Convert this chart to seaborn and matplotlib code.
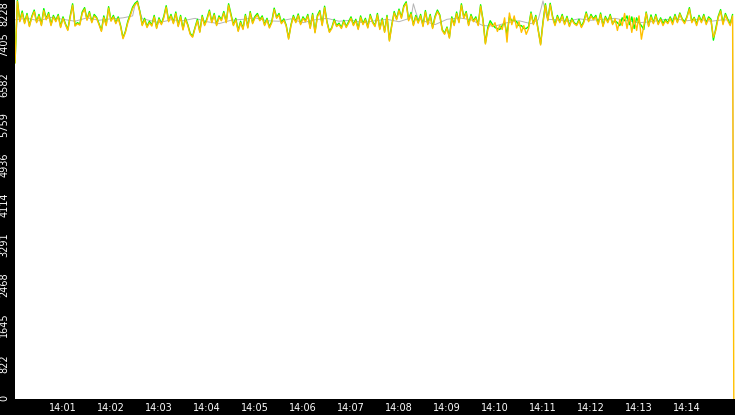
import numpy as np
import pandas as pd
import matplotlib
matplotlib.use('Agg')
import matplotlib.pyplot as plt
import matplotlib.dates as mdates
import matplotlib.transforms as mtransforms
import seaborn as sns

# Data, one sample every 3 s from 14:00:00
start = pd.Timestamp('2024-01-01 14:00:00')
step_s = 3

yellow = [
    6930, 8200, 7780, 7960, 7740, 7920, 7680, 7870, 7990, 7760,
    7900, 7700, 8010, 7820, 7940, 7700, 7880, 7780, 7900, 7660,
    7850, 7720, 7600, 7870, 8120, 7690, 7740, 7710, 7950, 8040,
    7810, 7960, 7760, 7900, 7850, 7720, 7580, 7870, 7700, 8060,
    7790, 7880, 7740, 7850, 7680, 7430, 7560, 7760, 7900, 8050,
    8130, 8180, 7980, 7700, 7820, 7660, 7760, 7690, 7880, 7640,
    7830, 7720, 7860, 8080, 7780, 7900, 7740, 7950, 7680, 7880,
    7610, 7830, 7700, 7520, 7460, 7640, 7800, 7560, 7880, 7700,
    7820, 7990, 7760, 7920, 7700, 7870, 7800, 7960, 7760, 8120,
    7900, 7700, 7820, 7580, 7760, 7620, 7900, 7650, 7960, 7740,
    7860, 7920, 7800, 7870, 7700, 7820, 7650, 7760, 8030, 7850,
    7920, 7740, 7810, 7690, 7420, 7700, 7880, 7760, 7910, 7720,
    7850, 7780, 7900, 7640, 7920, 7550, 7880, 7980, 7700, 8070,
    7760, 7560, 7640, 7800, 7680, 7720, 7640, 7780, 7660, 7750,
    7850, 7700, 7800, 7620, 7870, 7720, 7820, 7650, 7900, 7760,
    7680, 7920, 7620, 7820, 7560, 7880, 7380, 7700, 7960, 7820,
    8010, 7850, 8080, 8160, 7800, 7940, 7700, 7880, 7750, 7900,
    7680, 7980, 7720, 7900, 7640, 7860, 7990, 7900, 7600, 7520,
    7650, 7440, 7850, 7700, 7950, 7760, 8120, 7850, 7960, 7700,
    7900, 7780, 7850, 7700, 8100, 7800, 7320, 7620, 7750, 7680,
    7760, 7580, 7700, 7620, 7860, 7360, 7960, 7720, 7900, 7650,
    7780, 7560, 7700, 7520, 7640, 7950, 7720, 7880, 7600, 7300,
    7750, 8120, 7800, 8130, 7860, 7700, 7880, 7760, 7900, 7720,
    7860, 7680, 7820, 7740, 7700, 7800, 7660, 7760, 7950, 7780,
    7900, 7820, 7880, 7720, 7930, 7680, 7860, 7760, 7900, 7720,
    7840, 7600, 7820, 7700, 7950, 7640, 7900, 7560, 7860, 7600,
    7900, 7420, 7700, 7960, 7680, 7880, 7740, 7900, 7720, 7830,
    7700, 7800, 7740, 7850, 7720, 7900, 7760, 7940, 7820, 7740,
    7870, 8040, 7760, 7850, 7700, 7880, 7760, 7900, 7720, 7850,
    7800, 7460, 7600, 7860, 8000, 7720, 7920, 7800, 7700, 7900,
]

green = [
    6930, 8220, 7800, 8000, 7760, 7950, 7700, 7890, 8020, 7780,
    7930, 7720, 8050, 7840, 7970, 7720, 7910, 7800, 7930, 7680,
    7880, 7740, 7620, 7900, 8150, 7710, 7760, 7730, 7980, 8070,
    7830, 7990, 7780, 7930, 7870, 7740, 7600, 7900, 7720, 8090,
    7810, 7910, 7760, 7880, 7700, 7450, 7580, 7790, 7930, 8080,
    8160, 8200, 8000, 7720, 7850, 7680, 7790, 7710, 7910, 7660,
    7860, 7740, 7890, 8110, 7800, 7930, 7760, 7980, 7700, 7910,
    7630, 7860, 7720, 7540, 7480, 7660, 7830, 7580, 7910, 7720,
    7850, 8020, 7780, 7950, 7720, 7900, 7820, 7990, 7780, 8150,
    7930, 7720, 7850, 7600, 7790, 7640, 7930, 7670, 7990, 7760,
    7890, 7950, 7820, 7900, 7720, 7850, 7670, 7790, 8060, 7870,
    7950, 7760, 7840, 7710, 7440, 7720, 7910, 7780, 7940, 7740,
    7880, 7800, 7930, 7660, 7950, 7570, 7910, 8010, 7720, 8100,
    7780, 7580, 7660, 7830, 7700, 7750, 7660, 7810, 7680, 7780,
    7880, 7720, 7830, 7640, 7900, 7740, 7850, 7670, 7930, 7780,
    7700, 7950, 7640, 7850, 7580, 7910, 7400, 7720, 7990, 7840,
    8040, 7870, 8110, 8190, 7820, 7970, 7720, 7910, 7770, 7930,
    7700, 8010, 7740, 7930, 7660, 7890, 8020, 7920, 7620, 7540,
    7670, 7460, 7880, 7720, 7980, 7780, 8150, 7870, 7990, 7720,
    7930, 7800, 7880, 7720, 8130, 7820, 7340, 7660, 7800, 7720,
    7660, 7640, 7620, 7700, 7760, 7520, 7880, 7800, 7820, 7780,
    7700, 7700, 7640, 7640, 7680, 7980, 7740, 7910, 7620, 7320,
    7780, 8150, 7820, 8160, 7890, 7720, 7910, 7780, 7930, 7740,
    7890, 7700, 7850, 7760, 7720, 7830, 7680, 7790, 7980, 7800,
    7930, 7840, 7910, 7740, 7960, 7700, 7890, 7780, 7930, 7740,
    7800, 7760, 7700, 7860, 7800, 7900, 7720, 7880, 7640, 7860,
    7760, 7700, 7620, 7980, 7700, 7920, 7760, 7930, 7740, 7860,
    7740, 7830, 7760, 7880, 7760, 7930, 7780, 7960, 7840, 7770,
    7890, 8070, 7790, 7870, 7730, 7910, 7790, 7930, 7750, 7880,
    7830, 7400, 7640, 7890, 8030, 7750, 7950, 7830, 7730, 7930,
]

# gray series, mostly every 15 s, denser around its spikes
gray_s = [
    0, 15, 30, 45, 60, 75, 90, 105, 120, 135, 147, 150, 153, 156, 159, 165,
    180, 195, 210, 225, 240, 255, 270, 285, 300, 315, 330, 345, 360, 375,
    390, 405, 420, 435, 450, 465, 480, 495, 498, 501, 504, 510, 525, 540,
    555, 570, 585, 600, 615, 630, 645, 654, 657, 660, 663, 666, 675, 690,
    705, 720, 735, 750, 765, 780, 795, 810, 825, 840, 855, 870, 885, 897, 898,
]
gray = [
    7820, 7850, 7800, 7870, 7830, 7790, 7860, 7810, 7840, 7860, 7900, 8120,
    8220, 8000, 7840, 7820,
    7760, 7820, 7800, 7850, 7780, 7740, 7810, 7830, 7860, 7800, 7790, 7840,
    7760, 7820,
    7850, 7790, 7810, 7760, 7800, 7830, 7780, 7860, 8150, 7980, 7840, 7800,
    7720, 7830,
    7860, 7820, 7700, 7690, 7760, 7800, 7740, 7820, 8010, 8210, 7980, 7830,
    7820, 7790,
    7840, 7810, 7830, 7850, 7800, 7760, 7780, 7820, 7840, 7800, 7830, 7790,
    7820, 7810, 4114,
]

# last yellow sample at the right edge
yellow_tail_s = [898.5]
yellow_tail = [0]

y_ticks = [0, 822, 1645, 2468, 3291, 4114, 4936, 5759, 6582, 7405, 8228]
x_tick_minutes = list(range(1, 15))
x_tick_labels = ['14:01', '14:02', '14:03', '14:04', '14:05', '14:06', '14:07',
                 '14:08', '14:09', '14:10', '14:11', '14:12', '14:13', '14:14']


def make_frame(secs, vals):
    return pd.DataFrame({'time': start + pd.to_timedelta(secs, unit='s'),
                         'value': vals})


secs = list(np.arange(len(yellow)) * step_s)
df_yellow = make_frame(secs + yellow_tail_s, yellow + yellow_tail)
df_green = make_frame(secs, green)
df_gray = make_frame(gray_s, gray)

sns.set_style('white')
plt.rcParams['font.family'] = ['DejaVu Sans']

fig = plt.figure(figsize=(7.35, 4.15), dpi=100, facecolor='black')
ax = fig.add_axes([15 / 735, 16 / 415, 720 / 735, 399 / 415])
ax.set_facecolor('white')

sns.lineplot(data=df_gray, x='time', y='value', color='#b4b4b4', lw=0.7,
             estimator=None, sort=False, ax=ax)
sns.lineplot(data=df_green, x='time', y='value', color='#00ff00', lw=1.0,
             estimator=None, sort=False, ax=ax)
sns.lineplot(data=df_yellow, x='time', y='value', color='#ffc000', lw=1.0,
             estimator=None, sort=False, ax=ax)

ax.set_xlim(mdates.date2num(start), mdates.date2num(start + pd.Timedelta(seconds=900)))
ax.set_ylim(0, 8228)
ax.set_xlabel('')
ax.set_ylabel('')

ax.set_xticks([mdates.date2num(start + pd.Timedelta(minutes=m)) for m in x_tick_minutes])
ax.set_xticklabels(x_tick_labels)
ax.set_yticks(y_ticks)
ax.set_yticklabels([str(v) for v in y_ticks], rotation=90, va='center')

ax.tick_params(axis='x', colors='white', direction='out', length=3.6, width=1,
               pad=-0.6, labelsize=7)
ax.tick_params(axis='y', colors='white', direction='out', length=3, width=1,
               pad=1, labelsize=7)

for s in ax.spines.values():
    s.set_visible(False)

# shift y labels a bit downwards like the original, keep the end ones inside
labels = ax.get_yticklabels()
for i, lab in enumerate(labels):
    dy = -5
    if i == len(labels) - 1:
        dy = -13.5
    elif i == 0:
        dy = 1.5
    off = mtransforms.ScaledTranslation(0, dy / 100, fig.dpi_scale_trans)
    lab.set_transform(lab.get_transform() + off)

fig.savefig('out.png', dpi=100, facecolor='black')
